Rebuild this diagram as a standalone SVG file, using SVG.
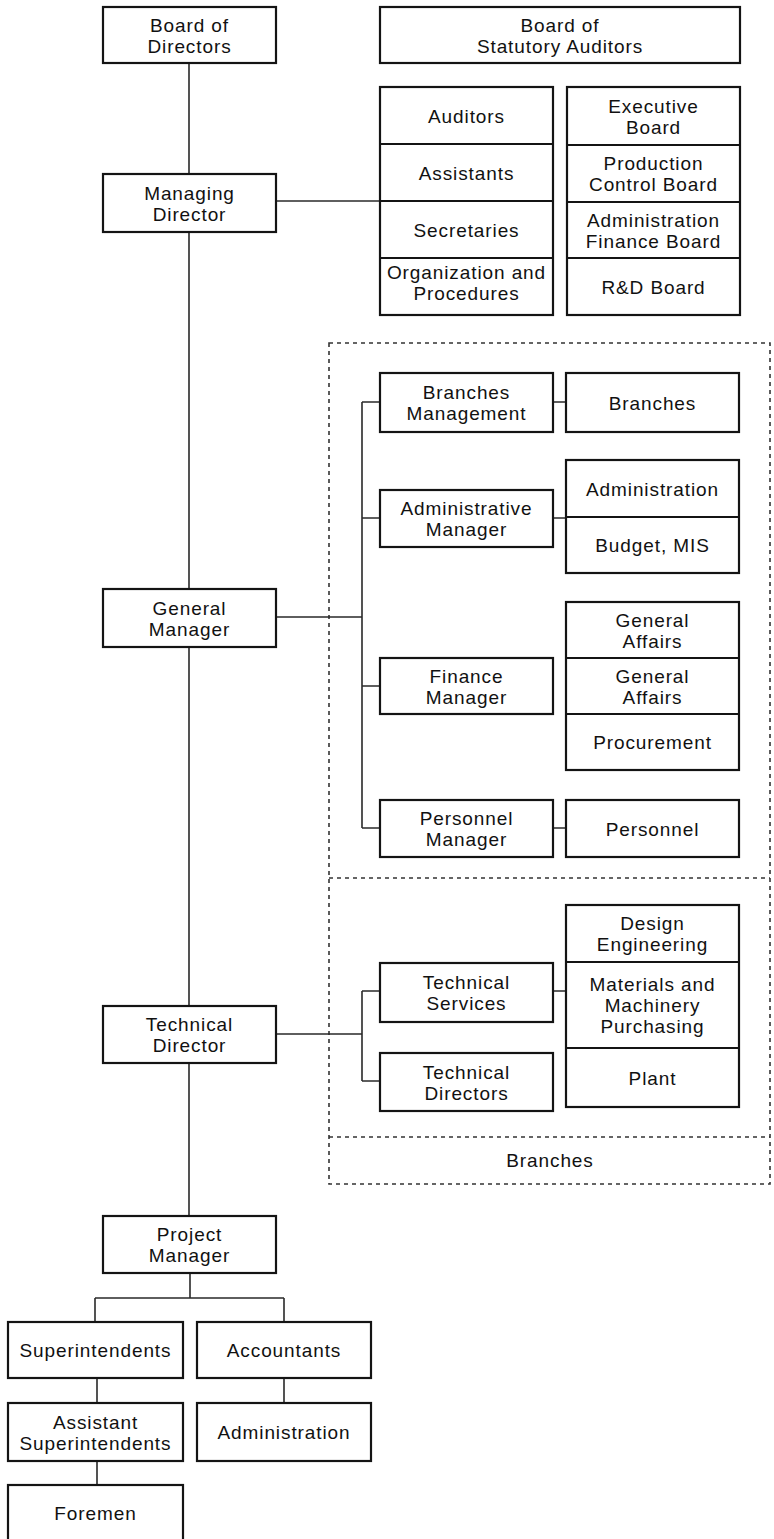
<svg xmlns="http://www.w3.org/2000/svg" width="774" height="1539" viewBox="0 0 774 1539">
  <style>
    .box { fill: #fff; stroke: #141414; stroke-width: 2.2; }
    .div { stroke: #141414; stroke-width: 2.2; }
    .link { fill: none; stroke: #2a2a2a; stroke-width: 1.6; }
    .zone { fill: none; stroke: #333; stroke-width: 1.6; stroke-dasharray: 4 4; }
    text { font-family: "Liberation Sans", Arial, sans-serif; font-size: 19px; fill: #111; text-anchor: middle; letter-spacing: 0.9px; }
  </style>
  <rect width="774" height="1539" fill="#fff"/>

  <!-- Branches zone (dotted frame) -->
  <g id="branches-zone">
    <rect class="zone" x="329" y="343" width="441" height="841"/>
    <line class="zone" x1="329" y1="878" x2="770" y2="878"/>
    <line class="zone" x1="329" y1="1137" x2="770" y2="1137"/>
    <text x="550" y="1167">Branches</text>
  </g>

  <!-- Connectors -->
  <g id="connectors">
    <path class="link" d="M189 63V174M189 232V589M189 647V1006M189 1063V1216"/>
    <path class="link" d="M276 201H380"/>
    <path class="link" d="M276 617H362M362 402V828M362 402H380M362 518H380M362 686H380M362 828H380"/>
    <path class="link" d="M553 402H566M553 518H566M553 828H566"/>
    <path class="link" d="M276 1034H362M362 991V1081M362 991H380M362 1081H380M553 991H566"/>
    <path class="link" d="M190 1273V1298M95 1298H284M95 1298V1322M284 1298V1322"/>
    <path class="link" d="M97 1378V1403M284 1378V1403M97 1461V1485"/>
  </g>

  <g id="board-of-directors">
    <rect class="box" x="103" y="7" width="173" height="56"/>
    <text x="189.5" y="31.5">Board of</text>
    <text x="189.5" y="52.5">Directors</text>
  </g>

  <g id="board-of-statutory-auditors">
    <rect class="box" x="380" y="7" width="360" height="56"/>
    <text x="560" y="31.5">Board of</text>
    <text x="560" y="52.5">Statutory Auditors</text>
  </g>

  <g id="staff-stack">
    <rect class="box" x="380" y="87" width="173" height="228"/>
    <line class="div" x1="380" y1="144" x2="553" y2="144"/>
    <line class="div" x1="380" y1="201" x2="553" y2="201"/>
    <line class="div" x1="380" y1="258" x2="553" y2="258"/>
    <text x="466.5" y="122.5">Auditors</text>
    <text x="466.5" y="179.5">Assistants</text>
    <text x="466.5" y="236.5">Secretaries</text>
    <text x="466.5" y="279">Organization and</text>
    <text x="466.5" y="300">Procedures</text>
  </g>

  <g id="boards-stack">
    <rect class="box" x="567" y="87" width="173" height="228"/>
    <line class="div" x1="567" y1="145" x2="740" y2="145"/>
    <line class="div" x1="567" y1="202" x2="740" y2="202"/>
    <line class="div" x1="567" y1="258" x2="740" y2="258"/>
    <text x="653.5" y="112.5">Executive</text>
    <text x="653.5" y="133.5">Board</text>
    <text x="653.5" y="170">Production</text>
    <text x="653.5" y="191">Control Board</text>
    <text x="653.5" y="226.5">Administration</text>
    <text x="653.5" y="247.5">Finance Board</text>
    <text x="653.5" y="293.5">R&amp;D Board</text>
  </g>

  <g id="managing-director">
    <rect class="box" x="103" y="174" width="173" height="58"/>
    <text x="189.5" y="199.5">Managing</text>
    <text x="189.5" y="220.5">Director</text>
  </g>

  <g id="general-manager">
    <rect class="box" x="103" y="589" width="173" height="58"/>
    <text x="189.5" y="614.5">General</text>
    <text x="189.5" y="635.5">Manager</text>
  </g>

  <g id="technical-director">
    <rect class="box" x="103" y="1006" width="173" height="57"/>
    <text x="189.5" y="1031">Technical</text>
    <text x="189.5" y="1052">Director</text>
  </g>

  <g id="project-manager">
    <rect class="box" x="103" y="1216" width="173" height="57"/>
    <text x="189.5" y="1241">Project</text>
    <text x="189.5" y="1262">Manager</text>
  </g>

  <g id="branches-management">
    <rect class="box" x="380" y="373" width="173" height="59"/>
    <text x="466.5" y="399">Branches</text>
    <text x="466.5" y="420">Management</text>
  </g>

  <g id="branches">
    <rect class="box" x="566" y="373" width="173" height="59"/>
    <text x="652.5" y="409.5">Branches</text>
  </g>

  <g id="administrative-manager">
    <rect class="box" x="380" y="490" width="173" height="57"/>
    <text x="466.5" y="515">Administrative</text>
    <text x="466.5" y="536">Manager</text>
  </g>

  <g id="administration-budget">
    <rect class="box" x="566" y="460" width="173" height="113"/>
    <line class="div" x1="566" y1="517" x2="739" y2="517"/>
    <text x="652.5" y="495.5">Administration</text>
    <text x="652.5" y="552">Budget, MIS</text>
  </g>

  <g id="finance-manager">
    <rect class="box" x="380" y="658" width="173" height="56"/>
    <text x="466.5" y="682.5">Finance</text>
    <text x="466.5" y="703.5">Manager</text>
  </g>

  <g id="general-affairs-stack">
    <rect class="box" x="566" y="602" width="173" height="168"/>
    <line class="div" x1="566" y1="658" x2="739" y2="658"/>
    <line class="div" x1="566" y1="714" x2="739" y2="714"/>
    <text x="652.5" y="626.5">General</text>
    <text x="652.5" y="647.5">Affairs</text>
    <text x="652.5" y="682.5">General</text>
    <text x="652.5" y="703.5">Affairs</text>
    <text x="652.5" y="749">Procurement</text>
  </g>

  <g id="personnel-manager">
    <rect class="box" x="380" y="800" width="173" height="57"/>
    <text x="466.5" y="825">Personnel</text>
    <text x="466.5" y="846">Manager</text>
  </g>

  <g id="personnel">
    <rect class="box" x="566" y="800" width="173" height="57"/>
    <text x="652.5" y="835.5">Personnel</text>
  </g>

  <g id="technical-services">
    <rect class="box" x="380" y="963" width="173" height="59"/>
    <text x="466.5" y="989">Technical</text>
    <text x="466.5" y="1010">Services</text>
  </g>

  <g id="technical-directors">
    <rect class="box" x="380" y="1053" width="173" height="58"/>
    <text x="466.5" y="1078.5">Technical</text>
    <text x="466.5" y="1099.5">Directors</text>
  </g>

  <g id="engineering-stack">
    <rect class="box" x="566" y="905" width="173" height="202"/>
    <line class="div" x1="566" y1="962" x2="739" y2="962"/>
    <line class="div" x1="566" y1="1048" x2="739" y2="1048"/>
    <text x="652.5" y="930">Design</text>
    <text x="652.5" y="951">Engineering</text>
    <text x="652.5" y="991">Materials and</text>
    <text x="652.5" y="1012">Machinery</text>
    <text x="652.5" y="1033">Purchasing</text>
    <text x="652.5" y="1084.5">Plant</text>
  </g>

  <g id="superintendents">
    <rect class="box" x="8" y="1322" width="175" height="56"/>
    <text x="95.5" y="1357">Superintendents</text>
  </g>

  <g id="accountants">
    <rect class="box" x="197" y="1322" width="174" height="56"/>
    <text x="284" y="1357">Accountants</text>
  </g>

  <g id="assistant-superintendents">
    <rect class="box" x="8" y="1403" width="175" height="58"/>
    <text x="95.5" y="1428.5">Assistant</text>
    <text x="95.5" y="1449.5">Superintendents</text>
  </g>

  <g id="site-administration">
    <rect class="box" x="197" y="1403" width="174" height="58"/>
    <text x="284" y="1439">Administration</text>
  </g>

  <g id="foremen">
    <rect class="box" x="8" y="1485" width="175" height="57"/>
    <text x="95.5" y="1520">Foremen</text>
  </g>
</svg>
